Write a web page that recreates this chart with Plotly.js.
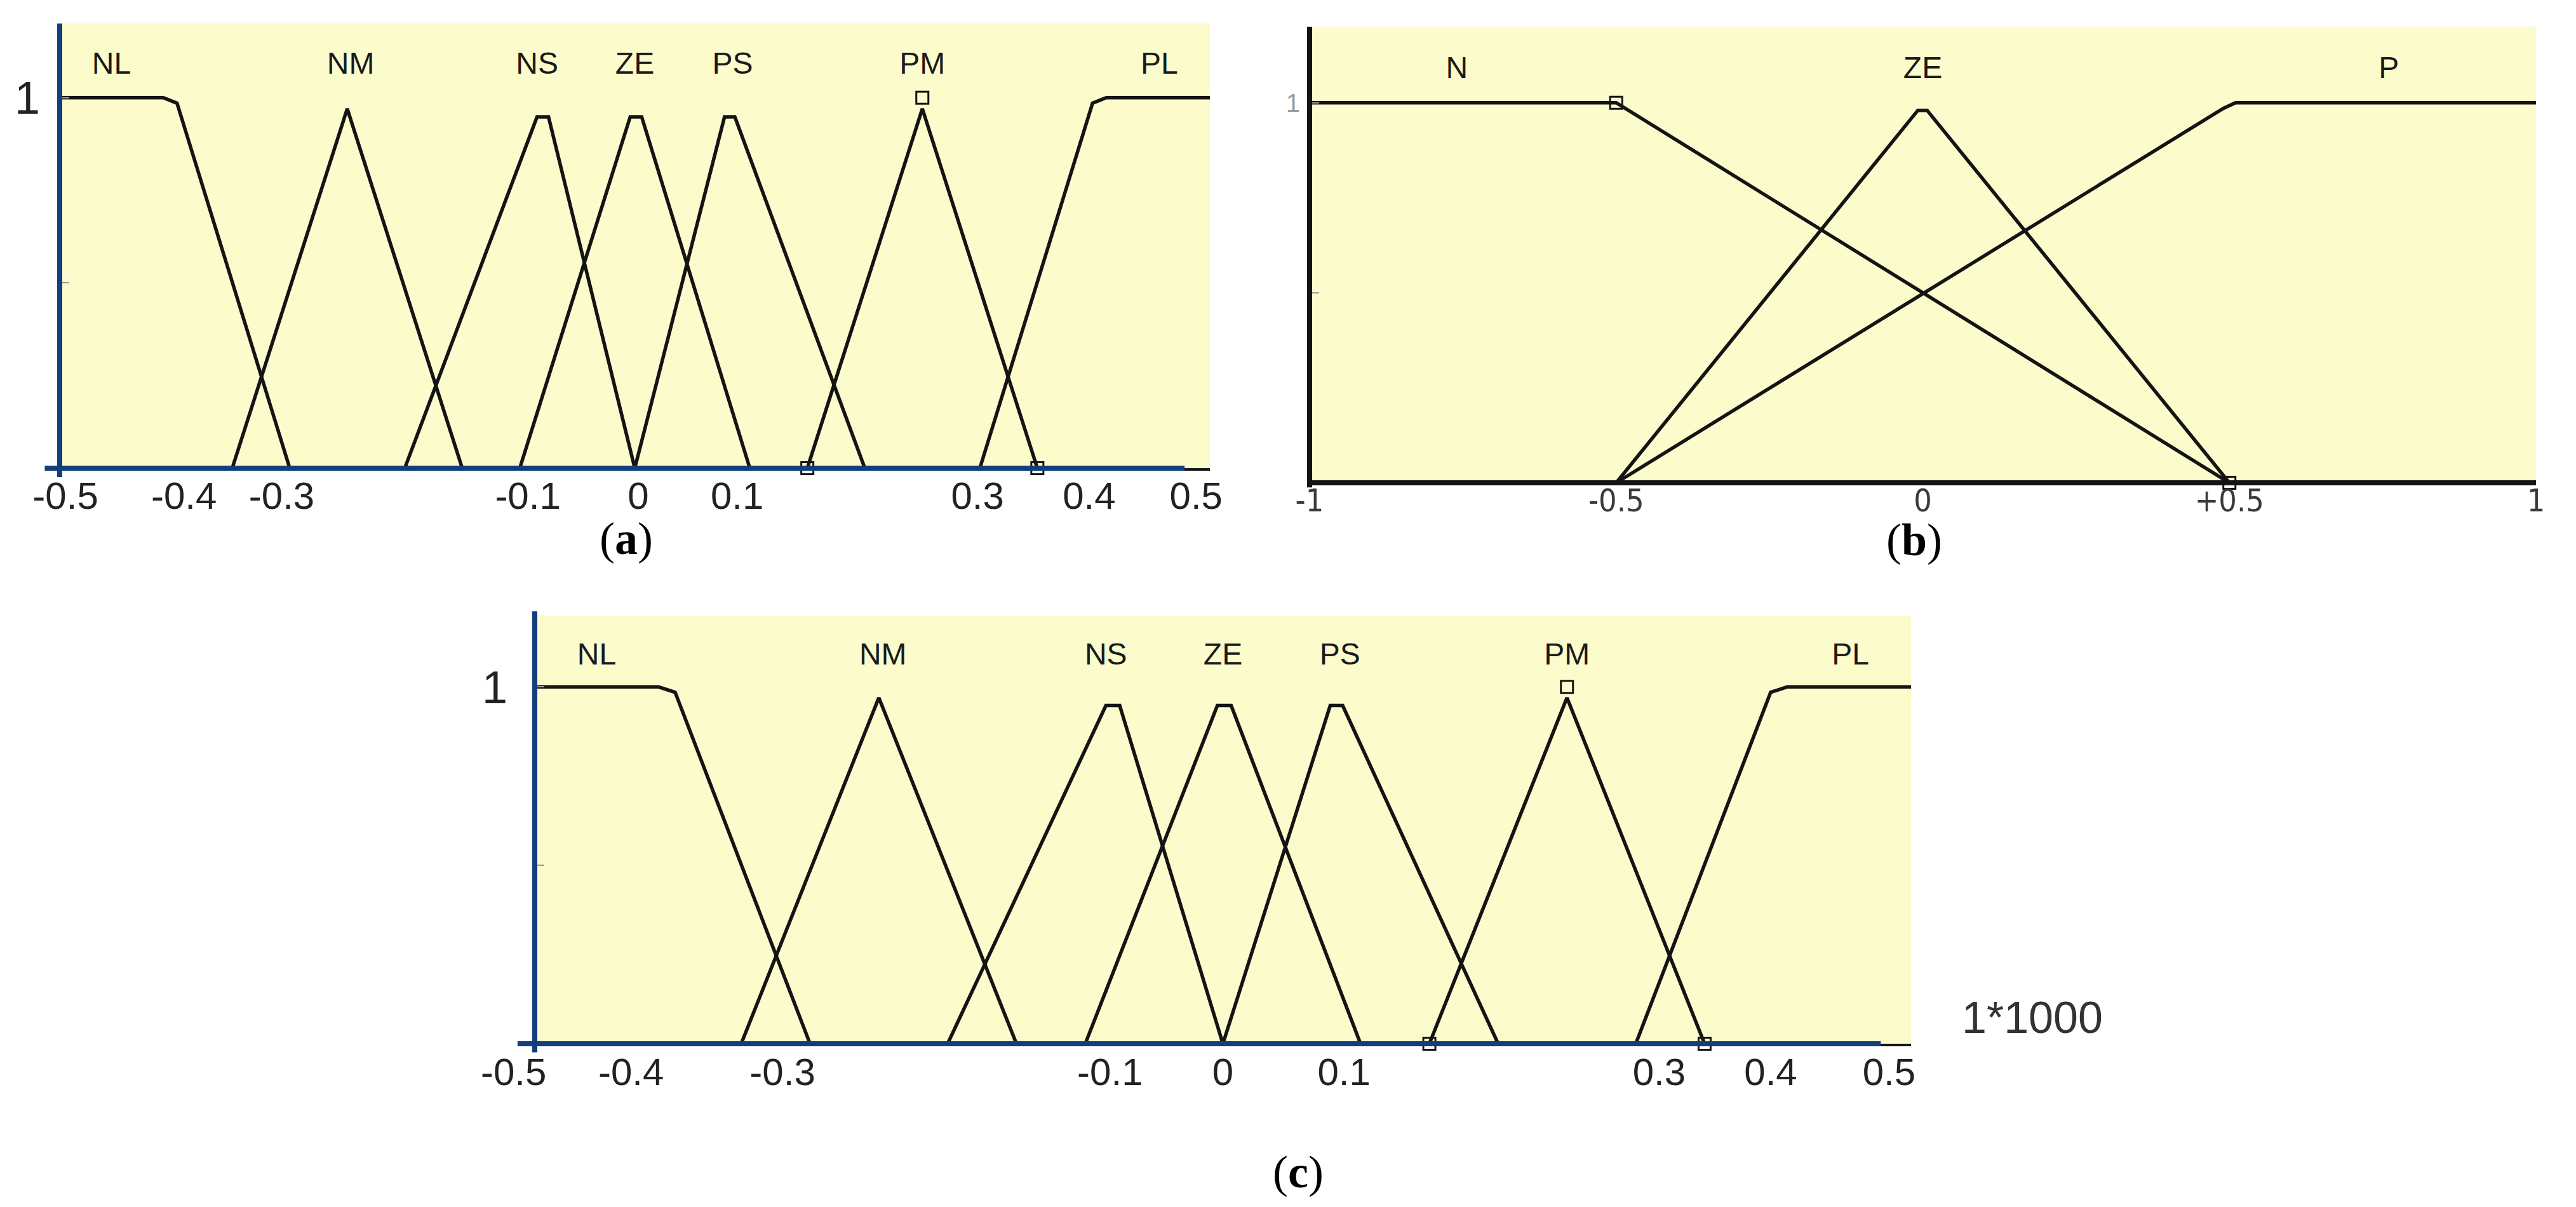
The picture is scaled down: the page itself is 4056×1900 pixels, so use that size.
<!DOCTYPE html>
<html>
<head>
<meta charset="utf-8">
<script src="https://cdn.plot.ly/plotly-3.0.1.min.js"></script>
<style>
  html, body { margin: 0; padding: 0; background: #fff; }
  #chart { width: 4056px; height: 1900px; }
</style>
</head>
<body>
<div id="chart"></div>
<script>
// membership functions of panels (a) and (c)
const labels7 = ['NL', 'NM', 'NS', 'ZE', 'PS', 'PM', 'PL'];
const labelX7 = [-0.455, -0.247, -0.085, 0, 0.085, 0.25, 0.456];
const nlX = [-0.5, -0.41, -0.398, -0.3];
const nlY = [1, 1, 0.985, 0];
const nmX = [-0.35, -0.25, -0.15];
const nmY = [0, 0.97, 0];
const nsX = [-0.2, -0.085, -0.075, 0];
const nsY = [0, 0.948, 0.948, 0];
const zeX = [-0.1, -0.004, 0.006, 0.1];
const zeY = [0, 0.948, 0.948, 0];
const psX = [0, 0.078, 0.087, 0.2];
const psY = [0, 0.948, 0.948, 0];
const pmX = [0.15, 0.25, 0.35];
const pmY = [0, 0.97, 0];
const plX = [0.3, 0.398, 0.41, 0.5];
const plY = [0, 0.985, 1, 1];
const pmMarkX = [0.15, 0.25, 0.35];
const pmMarkY = [0, 1, 0];

// membership functions of panel (b)
const labels3 = ['N', 'ZE', 'P'];
const labelX3 = [-0.76, 0, 0.76];
const nX = [-1, -0.5, 0.5];
const nY = [1, 1, 0];
const zeBX = [-0.5, -0.008, 0.007, 0.5];
const zeBY = [0, 0.98, 0.98, 0];
const pX = [-0.5, 0.49, 0.51, 1];
const pY = [0, 0.985, 1, 1];
const nMarkX = [-0.5, 0.5];
const nMarkY = [1, 0];

// tick labels (the first one of (c) sits left of the axis)
const tickTextA = ['-0.5', '-0.4', '-0.3', '-0.1', '0', '0.1', '0.3', '0.4', '0.5'];
const tickValsA = [-0.495, -0.392, -0.307, -0.093, 0.003, 0.089, 0.298, 0.395, 0.488];
const tickTextC = ['-0.5\u00a0\u00a0\u00a0\u00a0', '-0.4', '-0.3', '-0.1', '0', '0.1', '0.3', '0.4', '0.5'];
const tickValsC = [-0.5, -0.43, -0.32, -0.082, 0, 0.088, 0.317, 0.398, 0.484];
const tickTextB = ['-1', '-0.5', '0', '+0.5', '1'];
const tickValsB = [-1, -0.5, 0, 0.5, 1];

const W = 4056, H = 1900;
const sans = 'Liberation Sans, Arial, sans-serif';
const narrow = 'Liberation Sans Narrow, Arial Narrow, DejaVu Sans Condensed, Liberation Sans, sans-serif';
const serif = 'Liberation Serif, Times New Roman, serif';
const blue = '#123f7c';
const frame = '#a8a8a0';

const dx = (a, b) => [a / W, b / W];
const dy = (top, bottom) => [1 - bottom / H, 1 - top / H];

const mfLine = (x, y, xa, ya) => ({
  x: x, y: y, xaxis: xa, yaxis: ya, mode: 'lines',
  line: {color: '#141414', width: 5.5}, hoverinfo: 'skip', showlegend: false
});

const mfText = (x, text, xa, ya) => ({
  x: x, y: x.map(() => 1.085), text: text, xaxis: xa, yaxis: ya, mode: 'text',
  textfont: {family: sans, size: 48, color: '#1a1a1a'}, hoverinfo: 'skip', showlegend: false
});

const marks = (x, y, xa, ya) => ({
  x: x, y: y, xaxis: xa, yaxis: ya, mode: 'markers', cliponaxis: false,
  marker: {symbol: 'square-open', size: 19, color: '#141414', line: {width: 3, color: '#141414'}},
  hoverinfo: 'skip', showlegend: false
});

const sevenMfs = (xa, ya) => [
  mfLine(nlX, nlY, xa, ya),
  mfLine(nmX, nmY, xa, ya),
  mfLine(nsX, nsY, xa, ya),
  mfLine(zeX, zeY, xa, ya),
  mfLine(psX, psY, xa, ya),
  mfLine(pmX, pmY, xa, ya),
  mfLine(plX, plY, xa, ya),
  marks(pmMarkX, pmMarkY, xa, ya),
  mfText(labelX7, labels7, xa, ya)
];

const data = [
  ...sevenMfs('x', 'y'),
  mfLine(nX, nY, 'x2', 'y2'),
  mfLine(zeBX, zeBY, 'x2', 'y2'),
  mfLine(pX, pY, 'x2', 'y2'),
  marks(nMarkX, nMarkY, 'x2', 'y2'),
  mfText(labelX3, labels3, 'x2', 'y2'),
  ...sevenMfs('x3', 'y3')
];

const bottomAxis = (dom, range, vals, text, anchor, font, standoff) => ({
  domain: dom, range: range, anchor: anchor,
  tickmode: 'array', tickvals: vals, ticktext: text, ticks: '',
  tickfont: font,
  ticklabelstandoff: standoff,
  showgrid: false, zeroline: false,
  showline: true, linecolor: '#141414', linewidth: 4
});

const leftAxis = (dom, anchor, size, color, standoff) => ({
  domain: dom, range: [0, 1.2], anchor: anchor,
  tickmode: 'array', tickvals: [0.5, 1], ticktext: ['', '1'],
  ticks: 'inside', ticklen: 15, tickwidth: 2, tickcolor: '#9a9a9a',
  tickfont: {family: sans, size: size, color: color},
  ticklabelstandoff: standoff,
  showgrid: false, zeroline: false, showline: false
});

const topAxis = (over, anchor, range, dtick) => ({
  overlaying: over, anchor: anchor, side: 'top', range: range,
  tickmode: 'linear', tick0: range[0], dtick: dtick,
  ticks: 'inside', ticklen: 18, tickwidth: 2, tickcolor: '#9a9a9a',
  showticklabels: false, showgrid: false, zeroline: false,
  showline: true, linecolor: frame, linewidth: 4
});

const rightAxis = (over, anchor) => ({
  overlaying: over, anchor: anchor, side: 'right', range: [0, 1.2],
  tickmode: 'array', tickvals: [0.5],
  ticks: 'inside', ticklen: 15, tickwidth: 2, tickcolor: '#9a9a9a',
  showticklabels: false, showgrid: false, zeroline: false,
  showline: true, linecolor: frame, linewidth: 4
});

const edge = (xref, yref, x0, x1, y0, y1, color) => ({
  type: 'line', xref: xref, yref: yref, x0: x0, x1: x1, y0: y0, y1: y1,
  line: {color: color, width: 8}, layer: 'above'
});

const caption = (letter, x, y) => ({
  text: '(<b>' + letter + '</b>)', xref: 'paper', yref: 'paper', x: x, y: y,
  xanchor: 'center', yanchor: 'middle', showarrow: false,
  font: {family: serif, size: 72, color: '#000'}
});

const layout = {
  width: W, height: H,
  margin: {l: 0, r: 0, t: 0, b: 0},
  paper_bgcolor: '#ffffff',
  plot_bgcolor: '#fbfbcb',
  showlegend: false,
  xaxis: bottomAxis(dx(94, 1905), [-0.5, 0.5], tickValsA, tickTextA, 'y',
    {family: sans, size: 60, color: '#222'}, -12),
  yaxis: leftAxis(dy(37, 737), 'x', 72, '#222', 30),
  xaxis2: bottomAxis(dx(2062, 3993), [-1, 1], tickValsB, tickTextB, 'y2',
    {family: narrow, size: 50, color: '#3a3a3a'}, -19),
  yaxis2: leftAxis(dy(42, 760), 'x2', 40, '#999', 14),
  xaxis3: bottomAxis(dx(842, 3009), [-0.5, 0.5], tickValsC, tickTextC, 'y3',
    {family: sans, size: 60, color: '#222'}, -11),
  yaxis3: leftAxis(dy(969, 1643), 'x3', 72, '#222', 42),
  xaxis4: topAxis('x', 'y', [-0.5, 0.5], 0.1),
  xaxis5: topAxis('x2', 'y2', [-1, 1], 0.2),
  xaxis6: topAxis('x3', 'y3', [-0.5, 0.5], 0.1),
  yaxis4: rightAxis('y', 'x'),
  yaxis5: rightAxis('y2', 'x2'),
  yaxis6: rightAxis('y3', 'x3'),
  shapes: [
    edge('x domain', 'y domain', 0, 0, -0.02, 1.0, blue),
    edge('x domain', 'y domain', -0.013, 0.978, 0, 0, blue),
    edge('x2 domain', 'y2 domain', 0, 0, -0.01, 1.0, '#141414'),
    edge('x2 domain', 'y2 domain', 0, 1, 0, 0, '#141414'),
    edge('x3 domain', 'y3 domain', 0, 0, -0.02, 1.01, blue),
    edge('x3 domain', 'y3 domain', -0.0125, 0.978, 0, 0, blue)
  ],
  annotations: [
    caption('a', 986 / W, 1 - 848 / H),
    caption('b', 3014 / W, 1 - 850 / H),
    caption('c', 2044 / W, 1 - 1845 / H),
    {
      text: '1*1000', xref: 'paper', yref: 'paper', x: 3200 / W, y: 1 - 1602 / H,
      xanchor: 'center', yanchor: 'middle', showarrow: false,
      font: {family: sans, size: 70, color: '#333'}
    }
  ]
};

Plotly.newPlot('chart', data, layout, {staticPlot: true, displayModeBar: false});
</script>
</body>
</html>
